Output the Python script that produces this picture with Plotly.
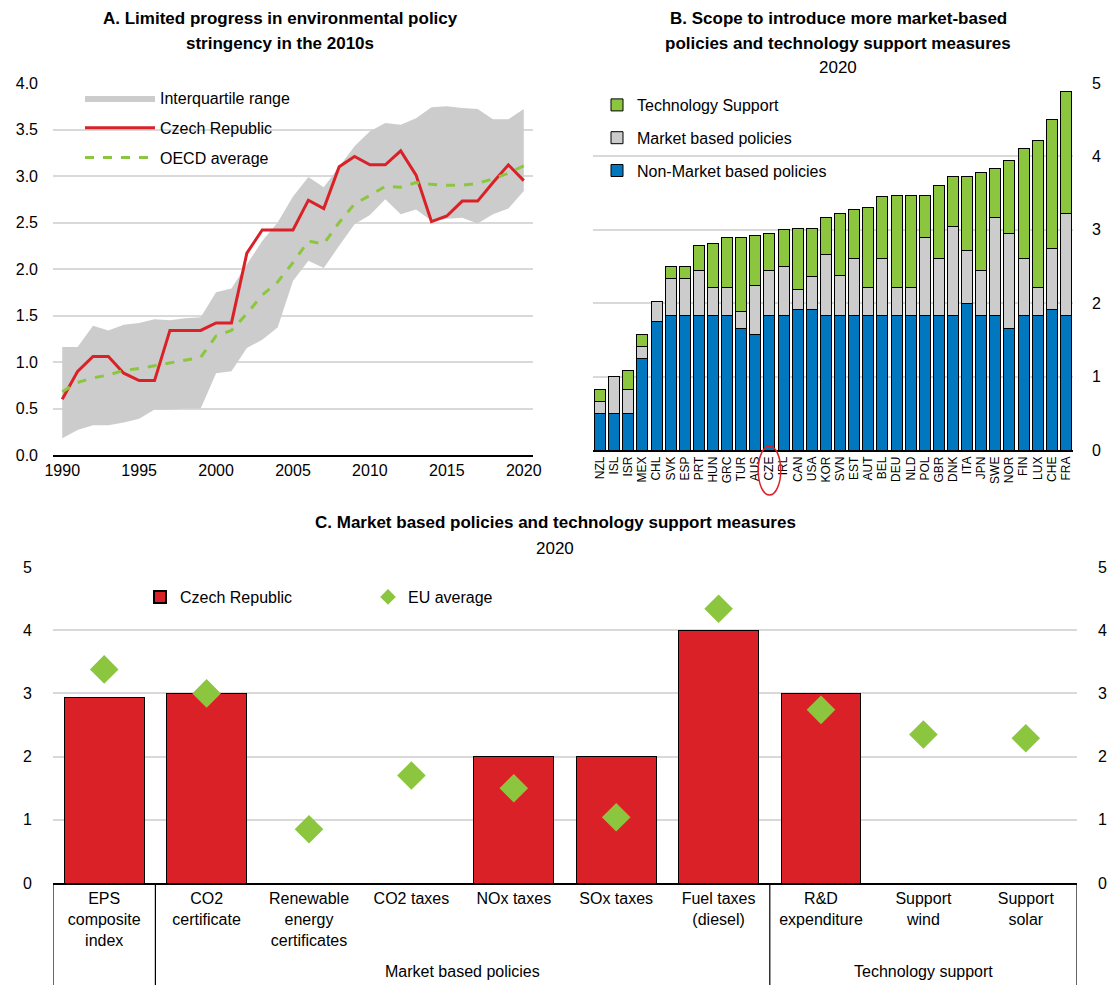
import plotly.graph_objects as go

W, H = 1110, 985
FONT = "Liberation Sans, Arial, sans-serif"
NARROW = "Liberation Sans Narrow, Arial Narrow, Liberation Sans, Arial, sans-serif"

RED = "#DA2128"
GREEN = "#8CC63F"
BLUE = "#0077BE"
GREY = "#CCCCCC"
GRID = "#D9D9D9"

# ---------------- Panel A data ----------------
years = list(range(1990, 2021))
czech = [0.60, 0.90, 1.06, 1.06, 0.88, 0.80, 0.80, 1.34, 1.34, 1.34, 1.42,
         1.42, 2.17, 2.42, 2.42, 2.42, 2.74, 2.65, 3.10, 3.21, 3.12,
         3.12, 3.27, 3.01, 2.51, 2.57, 2.73, 2.73, 2.93, 3.12, 2.95]
oecd = [0.68, 0.78, 0.83, 0.86, 0.91, 0.93, 0.96, 0.99, 1.02, 1.05, 1.28,
        1.34, 1.52, 1.72, 1.86, 2.07, 2.30, 2.27, 2.50, 2.70, 2.79,
        2.89, 2.88, 2.93, 2.91, 2.90, 2.90, 2.92, 2.97, 3.03, 3.11]
iq_upper = [1.16, 1.16, 1.39, 1.34, 1.40, 1.42, 1.46, 1.45, 1.47, 1.48, 1.75,
            1.79, 2.05, 2.30, 2.50, 2.78, 2.99, 2.88, 3.10, 3.32, 3.48,
            3.57, 3.55, 3.62, 3.74, 3.75, 3.73, 3.72, 3.61, 3.61, 3.72]
iq_lower = [0.18, 0.27, 0.32, 0.32, 0.35, 0.39, 0.49, 0.49, 0.50, 0.50, 0.88,
            0.90, 1.15, 1.24, 1.37, 1.87, 2.09, 2.01, 2.25, 2.48, 2.58,
            2.75, 2.59, 2.64, 2.52, 2.54, 2.55, 2.49, 2.59, 2.65, 2.84]

# ---------------- Panel B data ----------------
countries = ["NZL", "ISL", "ISR", "MEX", "CHL", "SVK", "ESP", "PRT", "HUN", "GRC",
             "TUR", "AUS", "CZE", "IRL", "CAN", "USA", "KOR", "SVN", "EST", "AUT",
             "BEL", "DEU", "NLD", "POL", "GBR", "DNK", "ITA", "JPN", "SWE", "NOR",
             "FIN", "LUX", "CHE", "FRA"]
non_market = [0.50, 0.50, 0.50, 1.25, 1.75, 1.83, 1.83, 1.83, 1.83, 1.83,
              1.66, 1.58, 1.83, 1.83, 1.92, 1.92, 1.83, 1.83, 1.83, 1.83,
              1.83, 1.83, 1.83, 1.83, 1.83, 1.83, 2.00, 1.83, 1.83, 1.66,
              1.83, 1.83, 1.92, 1.83]
market_based = [0.16, 0.50, 0.33, 0.16, 0.28, 0.50, 0.50, 0.62, 0.39, 0.39,
                0.23, 0.66, 0.62, 0.67, 0.27, 0.44, 0.84, 0.55, 0.78, 0.39,
                0.78, 0.39, 0.39, 1.06, 0.78, 1.22, 0.72, 0.62, 1.34, 1.29,
                0.78, 0.39, 0.83, 1.39]
tech_support = [0.17, 0.00, 0.25, 0.17, 0.00, 0.17, 0.17, 0.33, 0.59, 0.67,
                1.00, 0.68, 0.50, 0.50, 0.83, 0.66, 0.50, 0.84, 0.67, 1.09,
                0.84, 1.25, 1.25, 0.58, 1.00, 0.67, 1.00, 1.33, 0.67, 1.00,
                1.50, 2.00, 1.75, 1.67]
highlight = "CZE"

# ---------------- Panel C data ----------------
measures = ["EPS<br>composite<br>index", "CO2<br>certificate", "Renewable<br>energy<br>certificates",
            "CO2 taxes", "NOx taxes", "SOx taxes", "Fuel taxes<br>(diesel)",
            "R&D<br>expenditure", "Support<br>wind", "Support<br>solar"]
czech_c = [2.93, 3.00, 0, 0, 2.00, 2.00, 4.00, 3.00, 0, 0]
eu_avg = [3.38, 3.00, 0.85, 1.70, 1.50, 1.04, 4.34, 2.74, 2.35, 2.29]
groups = [("Market based policies", 0.5, 6.5), ("Technology support", 6.5, 9.5)]
group_bounds = [-0.5, 0.5, 6.5, 9.5]


def px_x(p):
    return p / W


def px_y(p):
    return 1 - p / H


fig = go.Figure()

# Panel A
fig.add_trace(go.Scatter(x=years, y=iq_lower, mode="lines", line=dict(width=0, color=GREY),
                         showlegend=False, hoverinfo="skip", xaxis="x", yaxis="y", legend="legend"))
fig.add_trace(go.Scatter(x=years, y=iq_upper, mode="lines", line=dict(width=0, color=GREY),
                         fill="tonexty", fillcolor=GREY, name="Interquartile range",
                         xaxis="x", yaxis="y", legend="legend", legendgroup="a1"))
fig.add_trace(go.Scatter(x=years, y=czech, mode="lines", line=dict(width=3, color=RED),
                         name="Czech Republic", xaxis="x", yaxis="y", legend="legend", legendgroup="a2"))
fig.add_trace(go.Scatter(x=years, y=oecd, mode="lines", line=dict(width=3, color=GREEN, dash="dash"),
                         name="OECD average", xaxis="x", yaxis="y", legend="legend", legendgroup="a3"))

# Panel B
for name, vals, col, g, rank in [("Non-Market based policies", non_market, BLUE, "b1", 3),
                                 ("Market based policies", market_based, GREY, "b2", 2),
                                 ("Technology Support", tech_support, GREEN, "b3", 1)]:
    fig.add_trace(go.Bar(x=countries, y=vals, name=name, marker=dict(color=col, line=dict(color="black", width=1)),
                         xaxis="x2", yaxis="y2", legend="legend2", legendgroup=g, legendrank=rank))

# Panel C
fig.add_trace(go.Bar(x=measures, y=czech_c, name="Czech Republic",
                     marker=dict(color=RED, line=dict(color="black", width=[1 if v > 0 else 0 for v in czech_c])),
                     xaxis="x3", yaxis="y3", legend="legend3", legendrank=1))
fig.add_trace(go.Scatter(x=measures, y=eu_avg, mode="markers", name="EU average",
                         marker=dict(symbol="diamond", size=22, color=GREEN),
                         xaxis="x3", yaxis="y4", legend="legend3", legendrank=2))

tickfont = dict(family=FONT, size=16, color="black")

fig.update_layout(
    width=W, height=H, margin=dict(l=0, r=0, t=0, b=0, autoexpand=False),
    paper_bgcolor="white", plot_bgcolor="white",
    font=dict(family=FONT, size=16, color="black"),
    barmode="stack", bargap=0.22,
    xaxis=dict(domain=[px_x(53), px_x(533)], range=[1989.4, 2020.6], tickvals=[1990, 1995, 2000, 2005, 2010, 2015, 2020],
               showgrid=False, showline=True, linecolor="black", linewidth=2, ticks="", tickfont=tickfont,
               zeroline=False, anchor="y", automargin=False),
    yaxis=dict(domain=[px_y(455), px_y(83)], range=[0, 4.0], dtick=0.5, tickformat=".1f",
               showgrid=True, gridcolor=GRID, gridwidth=1.5, showline=False, zeroline=False,
               tickfont=tickfont, ticklabelstandoff=14, anchor="x", automargin=False),
    xaxis2=dict(domain=[px_x(593), px_x(1073)], range=[-0.5, len(countries) - 0.5],
                showgrid=False, showline=True, linecolor="black", linewidth=1.5,
                tickangle=-90, tickfont=dict(family=NARROW, size=12, color="black"), ticks="",
                tickmode="array", tickvals=countries, ticktext=countries,
                anchor="y2", automargin=False),
    yaxis2=dict(domain=[px_y(450), px_y(83)], range=[0, 5], dtick=1, side="right",
                showgrid=True, gridcolor=GRID, gridwidth=1.5, zeroline=False, tickfont=tickfont,
                ticklabelstandoff=18, anchor="x2", automargin=False),
    xaxis3=dict(domain=[px_x(53), px_x(1077)], range=[-0.5, len(measures) - 0.5],
                showgrid=False, showline=True, linecolor="black", linewidth=2,
                ticks="", tickfont=dict(family=NARROW, size=16, color="black"), anchor="y3",
                automargin=False),
    yaxis3=dict(domain=[px_y(883), px_y(567)], range=[0, 5], dtick=1, showgrid=True, gridcolor=GRID,
                gridwidth=1.5, zeroline=False, tickfont=tickfont, ticklabelstandoff=20, anchor="x3",
                automargin=False),
    yaxis4=dict(overlaying="y3", range=[0, 5], dtick=1, side="right", showgrid=False, zeroline=False,
                tickfont=tickfont, ticklabelstandoff=20, anchor="x3", automargin=False),
    legend=dict(x=px_x(80), y=px_y(81), xanchor="left", yanchor="top", bgcolor="rgba(0,0,0,0)",
                font=dict(family=FONT, size=16), traceorder="grouped", tracegroupgap=6, itemwidth=70),
    legend2=dict(x=px_x(597), y=px_y(88), xanchor="left", yanchor="top", bgcolor="rgba(0,0,0,0)",
                 font=dict(family=FONT, size=16), traceorder="grouped", tracegroupgap=9, itemwidth=30),
    legend3=dict(x=px_x(140), y=px_y(580), xanchor="left", yanchor="top", orientation="h", bgcolor="rgba(0,0,0,0)",
                 font=dict(family=FONT, size=16), entrywidth=183, traceorder="normal", itemsizing="constant"),
)

annotations = []


def title(text, xc, yc, bold=True, size=17):
    annotations.append(dict(text=f"<b>{text}</b>" if bold else text, x=px_x(xc), y=px_y(yc), xref="paper",
                            yref="paper", xanchor="center", yanchor="middle", showarrow=False,
                            font=dict(family=FONT, size=size, color="black")))


title("A. Limited progress in environmental policy", 280, 18)
title("stringency in the 2010s", 280, 43)
title("B. Scope to introduce more market-based", 838, 18)
title("policies and technology support measures", 838, 43)
title("2020", 838, 68, bold=False)
title("C. Market based policies and technology support measures", 555, 522)
title("2020", 555, 548, bold=False)

for label, a, b in groups:
    annotations.append(dict(text=label, x=(a + b) / 2, y=px_y(971), xref="x3", yref="paper",
                            xanchor="center", yanchor="middle", showarrow=False,
                            font=dict(family=NARROW, size=16, color="black")))

shapes = []
for xb in group_bounds:
    shapes.append(dict(type="line", xref="x3", yref="paper", x0=xb, x1=xb, y0=px_y(883), y1=0,
                       line=dict(color="black", width=1.2)))

ci = countries.index(highlight)
shapes.append(dict(type="circle", xref="x2", yref="paper", x0=ci - 0.8, x1=ci + 0.8,
                   y0=px_y(495), y1=px_y(446), line=dict(color=RED, width=1.5)))

fig.update_layout(annotations=annotations, shapes=shapes)

fig.write_html("out.html", config={"displayModeBar": False},
               post_script="document.body.style.margin='0';document.body.style.overflow='hidden';")
